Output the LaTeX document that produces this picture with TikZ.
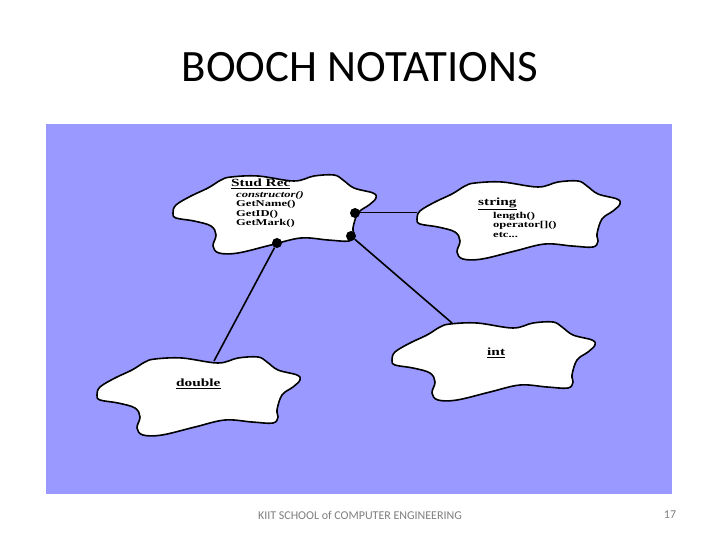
\documentclass[tikz,border=0pt]{standalone}
\usepackage{fontspec}
\setmainfont{Carlito}
\newfontfamily\boochfont[FakeStretch=1.4]{Liberation Serif}
\usepackage{tikz}
\usetikzlibrary{backgrounds}
\definecolor{slideblue}{HTML}{9999FF}
\definecolor{footgray}{HTML}{7F7F7F}

\begin{document}
\begin{tikzpicture}[x=1bp, y=-1bp]
        \tikzstyle{blobline}=[draw=black, fill=white, line width=1.6bp, line join=round]
        \tikzstyle{classname}=[font=\boochfont\bfseries\fontsize{11}{12}\selectfont, inner sep=0pt, anchor=west]
        \tikzstyle{members}=[font=\boochfont\bfseries\fontsize{9}{9.4}\selectfont, align=left, inner sep=0pt, anchor=north west]
        \tikzstyle{link}=[line width=1.6bp]
        \tikzstyle{dot}=[circle, fill=black, inner sep=0pt, minimum size=10bp]
        \tikzstyle{footer}=[font=\fontsize{12}{14}\selectfont, text=footgray]
        \tikzset{pics/blob/.style={code={
          \path[blobline] plot[smooth cycle, tension=0.6] coordinates {
            (-44,-37) (-17,-38) (19,-33) (39,-38) (59,-39) (68,-34) (79,-26)
            (98,-21) (101,-16) (94,-9) (83,-1) (78,14) (79,21) (74,27)
            (53,26) (26,24) (-4,31) (-37,39) (-56,39) (-62,32) (-59,21)
            (-64,12) (-81,7) (-99,4) (-102,-1) (-99,-9) (-84,-18) (-67,-26) (-54,-34)};
        }}}
        \fill[white] (0,0) rectangle (720,540);
        \useasboundingbox (0,0) rectangle (720,540);
        \node (title) at (360,67) {\fontsize{45}{50}\selectfont BOOCH NOTATIONS};
        \fill[slideblue] (46,124) rectangle (672,494);
        \begin{scope}
          \pic at (275,214) {blob};
          \pic at (519,220) {blob};
          \pic at (494,361) {blob};
          \pic at (199,396) {blob};
        \end{scope}
        \node [dot] (recS) at (355,213) {};
        \node [dot] (recI) at (351,236) {};
        \node [dot] (recD) at (277,243) {};
        \coordinate (strW) at (417,213);
        \coordinate (intN) at (452,323);
        \coordinate (dblN) at (214,361);
        \draw [link, line width=1bp] (recS) -- (strW);
        \draw [link] (recI) -- (intN);
        \draw [link] (recD) -- (dblN);
        \node [classname] (rec) at (231,184) {\underline{Stud Rec}};
        \node [members] (recops) at (236,191) {\textit{constructor()}\\GetName()\\GetID()\\GetMark()};
        \node [classname] (str) at (478,204) {\underline{string}};
        \node [members] (strops) at (493,212) {length()\\operator[]()\\etc...};
        \node [classname] (int) at (487,353) {\underline{int}};
        \node [classname] (dbl) at (176,384) {\underline{double}};
        \node [footer] (school) at (360,515) {KIIT SCHOOL of COMPUTER ENGINEERING};
        \node [footer] (page) at (670,515) {17};
      \end{tikzpicture}
\end{document}
